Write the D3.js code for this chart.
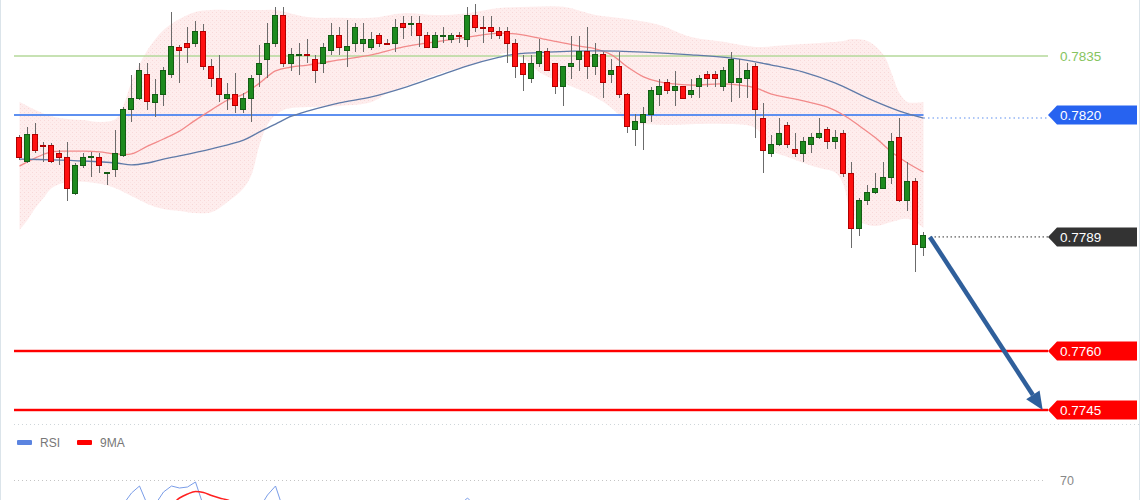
<!DOCTYPE html>
<html><head><meta charset="utf-8">
<script src="https://cdn.jsdelivr.net/npm/d3@7"></script>
<style>html,body{margin:0;padding:0;background:#fff;}svg{display:block;font-family:"Liberation Sans",Arial,Helvetica,sans-serif;}</style>
</head><body><svg id="c" width="1140" height="500"></svg>
<script>
// ---- candle data (index 0..113) ----
const open = [0.78142,0.78083,0.78151,0.78123,0.78122,0.78102,0.78091,0.78001,0.78071,0.78092,0.78091,0.78051,0.78062,0.78098,0.78213,0.78242,0.78302,0.78232,0.78253,0.78302,
0.78372,0.78382,0.78382,0.78412,0.78323,0.78292,0.78242,0.78251,0.78213,0.78241,0.78302,0.78342,0.78382,0.78452,0.78331,0.78353,0.78355,0.78342,0.78331,0.78363,
0.78402,0.78363,0.78382,0.78382,0.78372,0.78402,0.78382,0.78382,0.78433,0.78432,0.78433,0.78402,0.78372,0.78401,0.78392,0.78402,0.78392,0.78452,0.78423,0.78423,
0.78412,0.78412,0.78382,0.78331,0.78292,0.78331,0.78361,0.78331,0.78272,0.78323,0.78342,0.78361,0.78323,0.78353,0.78302,0.78323,0.78253,0.78162,0.78181,0.78202,
0.78253,0.78282,0.78262,0.78272,0.78253,0.78272,0.78302,0.78302,0.78272,0.78282,0.78282,0.78292,0.78323,0.78192,0.78103,0.78124,0.78173,0.78113,0.78103,0.78124,
0.78143,0.78162,0.78132,0.78153,0.78052,0.77912,0.77982,0.78002,0.78014,0.78042,0.78143,0.77982,0.78032,0.77863];
const high = [0.78149,0.78170,0.78180,0.78132,0.78128,0.78111,0.78132,0.78077,0.78103,0.78107,0.78103,0.78056,0.78162,0.78221,0.78302,0.78331,0.78331,0.78291,0.78323,0.78463,
0.78378,0.78423,0.78440,0.78431,0.78342,0.78353,0.78281,0.78306,0.78255,0.78302,0.78378,0.78433,0.78475,0.78475,0.78371,0.78382,0.78392,0.78353,0.78382,0.78433,
0.78423,0.78442,0.78433,0.78433,0.78412,0.78408,0.78392,0.78443,0.78452,0.78452,0.78452,0.78412,0.78412,0.78423,0.78408,0.78412,0.78475,0.78482,0.78452,0.78452,
0.78423,0.78423,0.78392,0.78353,0.78353,0.78392,0.78371,0.78333,0.78325,0.78402,0.78402,0.78423,0.78382,0.78361,0.78342,0.78361,0.78255,0.78202,0.78221,0.78272,
0.78292,0.78292,0.78313,0.78274,0.78292,0.78302,0.78313,0.78313,0.78323,0.78361,0.78342,0.78331,0.78331,0.78230,0.78149,0.78192,0.78181,0.78153,0.78143,0.78153,
0.78192,0.78170,0.78162,0.78162,0.78081,0.77988,0.78022,0.78052,0.78081,0.78153,0.78192,0.78081,0.78039,0.77903];
const low = [0.78086,0.78077,0.78103,0.78081,0.78079,0.78073,0.77981,0.77997,0.78065,0.78043,0.78053,0.78022,0.78043,0.78094,0.78183,0.78238,0.78213,0.78194,0.78223,0.78293,
0.78282,0.78331,0.78374,0.78314,0.78270,0.78234,0.78213,0.78204,0.78204,0.78183,0.78272,0.78293,0.78374,0.78323,0.78313,0.78302,0.78331,0.78282,0.78306,0.78353,
0.78353,0.78323,0.78361,0.78361,0.78365,0.78374,0.78380,0.78361,0.78392,0.78402,0.78374,0.78370,0.78370,0.78382,0.78382,0.78382,0.78372,0.78412,0.78382,0.78392,
0.78392,0.78333,0.78293,0.78262,0.78282,0.78323,0.78311,0.78253,0.78223,0.78292,0.78313,0.78292,0.78302,0.78242,0.78282,0.78242,0.78153,0.78122,0.78111,0.78181,
0.78223,0.78253,0.78223,0.78240,0.78242,0.78242,0.78272,0.78272,0.78262,0.78232,0.78242,0.78242,0.78142,0.78052,0.78093,0.78122,0.78115,0.78093,0.78081,0.78103,
0.78138,0.78113,0.78113,0.78043,0.77861,0.77892,0.77971,0.78000,0.78012,0.78025,0.77980,0.77956,0.77802,0.77842];
const close = [0.78093,0.78151,0.78111,0.78120,0.78083,0.78093,0.78012,0.78071,0.78091,0.78094,0.78071,0.78053,0.78103,0.78213,0.78242,0.78313,0.78234,0.78253,0.78313,0.78374,
0.78363,0.78372,0.78412,0.78323,0.78292,0.78253,0.78251,0.78223,0.78241,0.78292,0.78331,0.78382,0.78452,0.78331,0.78353,0.78355,0.78354,0.78313,0.78372,0.78402,
0.78372,0.78374,0.78423,0.78392,0.78392,0.78382,0.78381,0.78423,0.78423,0.78433,0.78402,0.78372,0.78402,0.78402,0.78402,0.78401,0.78452,0.78423,0.78422,0.78412,
0.78402,0.78382,0.78323,0.78302,0.78331,0.78361,0.78313,0.78272,0.78323,0.78331,0.78361,0.78323,0.78353,0.78282,0.78313,0.78253,0.78172,0.78183,0.78202,0.78262,
0.78272,0.78262,0.78272,0.78242,0.78262,0.78292,0.78292,0.78292,0.78313,0.78342,0.78292,0.78313,0.78213,0.78111,0.78124,0.78153,0.78124,0.78103,0.78132,0.78143,
0.78153,0.78132,0.78143,0.78052,0.77912,0.77982,0.78002,0.78014,0.78042,0.78132,0.77982,0.78032,0.77872,0.77893];

// ---- Bollinger bands / moving averages: [candle index, price] ----
const bbUpper = [[0,0.78234],[2,0.78213],[4,0.78197],[6,0.78190],[8,0.78187],[10,0.78182],[12,0.78190],[13,0.78225],[14,0.78284],[16,0.78365],[18,0.78416],[20,0.78444],[22,0.78462],[24,0.78467],[26,0.78467],[28,0.78467],[30,0.78467],[32,0.78467],[36,0.78449],[40,0.78447],[44,0.78447],[48,0.78459],[52,0.78454],[56,0.78459],[60,0.78472],[64,0.78475],[68,0.78475],[72,0.78454],[76,0.78444],[80,0.78429],[84,0.78398],[88,0.78386],[92,0.78373],[96,0.78378],[100,0.78383],[103,0.78388],[104,0.78393],[106,0.78388],[108,0.78353],[109,0.78307],[110,0.78256],[111,0.78233],[113,0.78233]];
const bbLower = [[0,0.77908],[1,0.77933],[2,0.77964],[3,0.77989],[4,0.78014],[6,0.78030],[8,0.78030],[10,0.78025],[12,0.78014],[14,0.77994],[16,0.77974],[18,0.77961],[20,0.77956],[22,0.77951],[24,0.77953],[26,0.77979],[28,0.78014],[29,0.78048],[30,0.78124],[31,0.78175],[32,0.78200],[33,0.78213],[34,0.78218],[40,0.78223],[44,0.78233],[46,0.78256],[48,0.78271],[52,0.78302],[56,0.78325],[59,0.78345],[61,0.78358],[63,0.78343],[65,0.78309],[67,0.78289],[70,0.78264],[73,0.78233],[75,0.78200],[76,0.78182],[80,0.78175],[88,0.78177],[92,0.78167],[94,0.78111],[96,0.78093],[98,0.78078],[100,0.78065],[102,0.78053],[103,0.78022],[104,0.77946],[105,0.77928],[107,0.77918],[109,0.77928],[111,0.77936],[113,0.77913]];
const bbMid = [[0,0.78070],[2,0.78091],[4,0.78106],[6,0.78108],[8,0.78108],[10,0.78106],[12,0.78101],[14,0.78101],[16,0.78121],[18,0.78139],[20,0.78159],[22,0.78187],[24,0.78213],[26,0.78238],[28,0.78253],[30,0.78281],[32,0.78312],[34,0.78322],[36,0.78327],[40,0.78340],[44,0.78353],[48,0.78373],[52,0.78386],[56,0.78398],[60,0.78408],[62,0.78406],[66,0.78391],[70,0.78375],[72,0.78368],[74,0.78353],[76,0.78322],[78,0.78297],[80,0.78284],[84,0.78276],[88,0.78279],[92,0.78269],[94,0.78253],[98,0.78236],[101,0.78220],[103,0.78200],[105,0.78172],[107,0.78142],[109,0.78106],[111,0.78078],[113,0.78055]];
const maSlow = [[0,0.78088],[4,0.78086],[8,0.78083],[12,0.78078],[14,0.78073],[16,0.78078],[18,0.78088],[20,0.78096],[24,0.78114],[28,0.78136],[30,0.78157],[32,0.78177],[34,0.78197],[36,0.78210],[40,0.78231],[44,0.78246],[48,0.78269],[52,0.78297],[56,0.78325],[60,0.78347],[62,0.78355],[66,0.78360],[72,0.78363],[78,0.78360],[84,0.78353],[90,0.78342],[94,0.78327],[98,0.78309],[102,0.78281],[106,0.78243],[110,0.78210],[113,0.78192]];

// ---- price levels ----
const levelValues = [0.7835, 0.7820, 0.7789, 0.7760, 0.7745];
const levelLabels = ["0.7835", "0.7820", "0.7789", "0.7760", "0.7745"];
// projected move (index, price)
const arrowFrom = [113.8, 0.7789];
const arrowTo = [127.9, 0.7745];

// ---- RSI panel ----
const rsi = [45,47,44,42,41,40,36,38,40,41,40,38,37,46,57,64,45,46,58,64,62,63,68,44,40,38,35,40,39,44,42,55,64,40,42,44,44,43,41,45,47,44,45,47,47,46,45,45,47,46,46,44,42,44,44,45,52,44,42,42,41,40,38,35,33,37,40,36,33,38,39,41,38,40,35,37,33,27,29,31,38,41,40,41,38,39,42,41,41,44,47,46,46,35,30,32,35,33,32,35,37,38,36,37,30,24,29,31,32,35,42,33,37,27];
const rsiMa = [42,42,43,43,42,42,41,41,40,40,40,40,39,40,41,43,43,44,45,46,52,56,58.5,57.5,54.5,52,50,47,46,46,45,46,47,46,45,45,46,45,44,44,44,44,45,45,45,45,45,45,46,46,46,45,45,45,45,45,46,45,45,44,44,43,42,41,40,39,39,38,37,37,37,38,38,38,38,37,36,35,34,33,34,35,36,37,38,39,40,40,41,41,42,43,43,42,41,40,39,38,37,36,35,35,35,36,35,34,33,33,32,32,33,33,34,33];
const rsiLevel = 70;
const legendNames = ["RSI", "9MA"];

// ---- drawing ----
const svg = d3.select("#c");
const x = d3.scaleLinear().domain([0, 113]).range([19.5, 923.5]);
const y = d3.scaleLinear().domain([0.7745, 0.7835]).range([410, 56]);
const yR = d3.scaleLinear().domain([0, 100]).range([550, 450]);

const defs = svg.append("defs");
const pat = defs.append("pattern").attr("id", "dots").attr("patternUnits", "userSpaceOnUse").attr("width", 4).attr("height", 4);
pat.append("rect").attr("width", 4).attr("height", 4).attr("fill", "#feeded");
pat.append("rect").attr("x", 0).attr("y", 0).attr("width", 1).attr("height", 1).attr("fill", "#f8d8d8");
pat.append("rect").attr("x", 2).attr("y", 2).attr("width", 1).attr("height", 1).attr("fill", "#fae2e2");
defs.append("clipPath").attr("id", "clipR").append("rect").attr("x", 0).attr("y", 426).attr("width", 1140).attr("height", 74);

// side borders
svg.append("line").attr("x1", 0.5).attr("x2", 0.5).attr("y1", 0).attr("y2", 500).attr("stroke", "#dbe4ea");
svg.append("line").attr("x1", 1139.5).attr("x2", 1139.5).attr("y1", 0).attr("y2", 500).attr("stroke", "#dbe4ea");

// band
const curveLine = d3.line().x(d => x(d[0])).y(d => y(d[1])).curve(d3.curveCatmullRom.alpha(0.5));
const upPath = curveLine(bbUpper);
const loPath = curveLine(bbLower.slice().reverse());
svg.append("path").attr("d", upPath + "L" + loPath.slice(1) + "Z").attr("fill", "url(#dots)").attr("stroke", "none");

// level lines
const L0 = 14, L1 = 1048;
svg.append("line").attr("x1", L0).attr("x2", L1).attr("y1", y(levelValues[0])).attr("y2", y(levelValues[0]))
  .attr("stroke", "#b4d99a").attr("stroke-width", 1.5);
svg.append("line").attr("x1", L0).attr("x2", x(113)).attr("y1", y(levelValues[1])).attr("y2", y(levelValues[1]))
  .attr("stroke", "#5e90f0").attr("stroke-width", 2);
svg.append("line").attr("x1", x(113)).attr("x2", L1).attr("y1", y(levelValues[1]) + 3).attr("y2", y(levelValues[1]) + 3)
  .attr("stroke", "#5e90f0").attr("stroke-width", 1.2).attr("stroke-dasharray", "1.5,3");
svg.append("line").attr("x1", x(113) + 7).attr("x2", L1).attr("y1", y(levelValues[2])).attr("y2", y(levelValues[2]))
  .attr("stroke", "#333").attr("stroke-width", 1).attr("stroke-dasharray", "1.5,2.5");
[3, 4].forEach(k => {
  svg.append("line").attr("x1", L0).attr("x2", L1).attr("y1", y(levelValues[k])).attr("y2", y(levelValues[k]))
    .attr("stroke", "#ffb3b3").attr("stroke-width", 3.5);
  svg.append("line").attr("x1", L0).attr("x2", L1).attr("y1", y(levelValues[k])).attr("y2", y(levelValues[k]))
    .attr("stroke", "#f00").attr("stroke-width", 1.8);
});

// moving averages
svg.append("path").attr("d", curveLine(bbMid)).attr("fill", "none").attr("stroke", "#f28a8a").attr("stroke-width", 1.3);
svg.append("path").attr("d", curveLine(maSlow)).attr("fill", "none").attr("stroke", "#5f7aa8").attr("stroke-width", 1.3);

// candles
const idx = d3.range(open.length);
const cg = svg.append("g").attr("shape-rendering", "crispEdges");
cg.selectAll("line.w").data(idx).join("line").attr("class", "w")
  .attr("x1", i => x(i)).attr("x2", i => x(i)).attr("y1", i => y(high[i])).attr("y2", i => y(low[i]))
  .attr("stroke", "#6b6b6b").attr("stroke-width", 1);
cg.selectAll("rect.b").data(idx).join("rect").attr("class", "b")
  .attr("x", i => x(i) - 3).attr("width", 5)
  .attr("y", i => y(Math.max(open[i], close[i])))
  .attr("height", i => Math.max(1, y(Math.min(open[i], close[i])) - y(Math.max(open[i], close[i]))))
  .attr("fill", i => close[i] >= open[i] ? "#1e8a1e" : "#ff1010")
  .attr("stroke", i => close[i] >= open[i] ? "#145c14" : "#b00000").attr("stroke-width", 1);

// arrow
const ax0 = x(arrowFrom[0]), ay0 = y(arrowFrom[1]), ax1 = x(arrowTo[0]), ay1 = y(arrowTo[1]);
const ang = Math.atan2(ay1 - ay0, ax1 - ax0), hl = 18, hw = 8;
const bx = ax1 - hl * Math.cos(ang), by = ay1 - hl * Math.sin(ang);
svg.append("line").attr("x1", ax0).attr("y1", ay0).attr("x2", bx).attr("y2", by)
  .attr("stroke", "#2f5f9b").attr("stroke-width", 4.5);
svg.append("path").attr("d", `M${ax1},${ay1}L${bx + hw * Math.sin(ang)},${by - hw * Math.cos(ang)}L${bx - hw * Math.sin(ang)},${by + hw * Math.cos(ang)}Z`)
  .attr("fill", "#2f5f9b");

// labels
function tag(v, txt, fill) {
  const cy = y(v), h = 19, x0 = 1048, x1 = 1137;
  svg.append("path").attr("d", `M${x0},${cy}L${x0 + 9},${cy - h / 2}L${x1},${cy - h / 2}L${x1},${cy + h / 2}L${x0 + 9},${cy + h / 2}Z`).attr("fill", fill);
  svg.append("text").attr("x", 1060).attr("y", cy + 4.6).attr("fill", "#fff").attr("font-size", 13.5).text(txt);
}
svg.append("text").attr("x", 1060).attr("y", y(levelValues[0]) + 4.6).attr("fill", "#86c460").attr("font-size", 13.5).text(levelLabels[0]);
tag(levelValues[1], levelLabels[1], "#2763f0");
tag(levelValues[2], levelLabels[2], "#333333");
tag(levelValues[3], levelLabels[3], "#ff0000");
tag(levelValues[4], levelLabels[4], "#ff0000");

// RSI panel
svg.append("line").attr("x1", 14).attr("x2", 1140).attr("y1", 424.5).attr("y2", 424.5)
  .attr("stroke", "#cfd6da").attr("stroke-dasharray", "1,3");
svg.append("rect").attr("x", 17).attr("y", 440).attr("width", 15).attr("height", 5).attr("rx", 1).attr("fill", "#5b84e0");
svg.append("text").attr("x", 40).attr("y", 446.5).attr("fill", "#777").attr("font-size", 12).text(legendNames[0]);
svg.append("rect").attr("x", 77).attr("y", 440).attr("width", 15).attr("height", 5).attr("rx", 1).attr("fill", "#ff0000");
svg.append("text").attr("x", 100).attr("y", 446.5).attr("fill", "#777").attr("font-size", 12).text(legendNames[1]);
svg.append("line").attr("x1", 14).attr("x2", 1045).attr("y1", yR(rsiLevel) + 0.5).attr("y2", yR(rsiLevel) + 0.5)
  .attr("stroke", "#c4c4c4").attr("stroke-dasharray", "1,3");
svg.append("text").attr("x", 1060).attr("y", yR(rsiLevel) + 4.5).attr("fill", "#888").attr("font-size", 12.5).text(String(rsiLevel));
const rg = svg.append("g").attr("clip-path", "url(#clipR)");
const rl = d3.line().x((d, i) => x(i)).y(d => yR(d));
rg.append("path").attr("d", rl(rsi)).attr("fill", "none").attr("stroke", "#7a9de8").attr("stroke-width", 1);
rg.append("path").attr("d", rl.curve(d3.curveMonotoneX)(rsiMa)).attr("fill", "none").attr("stroke", "#ff2020").attr("stroke-width", 1.5);
</script></body></html>
